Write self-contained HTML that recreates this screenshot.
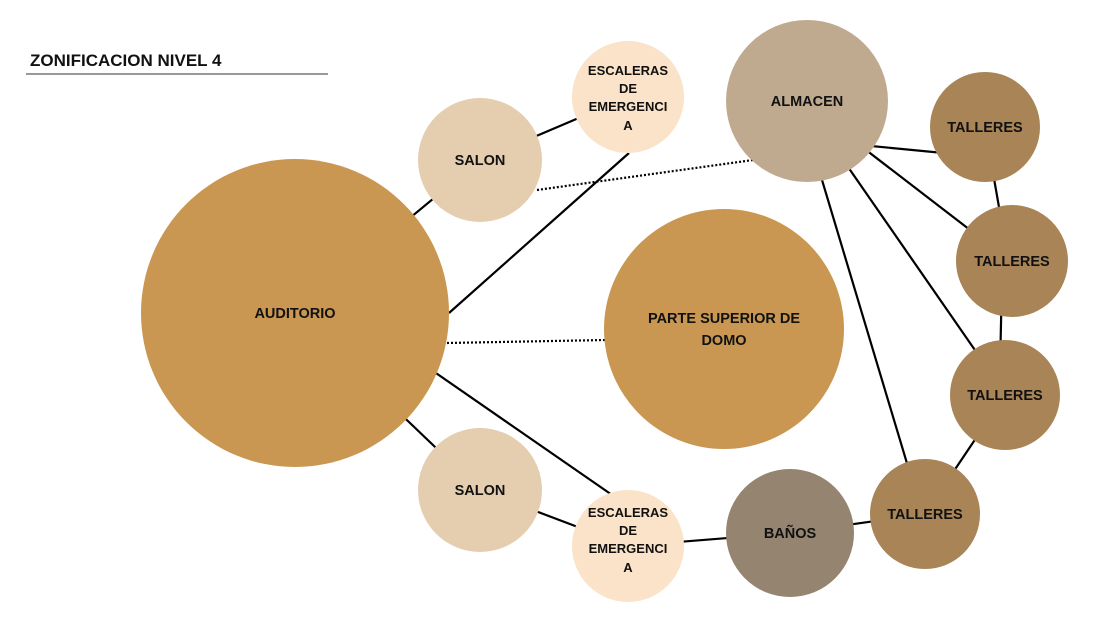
<!DOCTYPE html>
<html><head><meta charset="utf-8"><style>
html,body{margin:0;padding:0;background:#fff;}
svg{display:block;}
text{font-family:"Liberation Sans",sans-serif;font-weight:bold;font-size:14.5px;fill:#111;text-anchor:middle;}
</style></head><body>
<svg width="1100" height="618" viewBox="0 0 1100 618">
<text x="30" y="66" style="text-anchor:start;font-size:17px">ZONIFICACION NIVEL 4</text>
<line x1="26" y1="74" x2="328" y2="74" stroke="#333" stroke-width="1"/>
<g stroke="#000" stroke-width="2.2" fill="none">
<line x1="295" y1="313" x2="480" y2="160"/>
<line x1="480" y1="160" x2="628" y2="97"/>
<line x1="449" y1="313" x2="629" y2="153"/>
<line x1="537" y1="190" x2="753" y2="160" stroke-dasharray="2,2"/>
<line x1="447" y1="343" x2="605" y2="340" stroke-dasharray="2,2"/>
<line x1="420" y1="362" x2="628" y2="506"/>
<line x1="295" y1="313" x2="480" y2="490"/>
<line x1="480" y1="490" x2="628" y2="546"/>
<line x1="628" y1="546" x2="790" y2="533"/>
<line x1="790" y1="533" x2="925" y2="514"/>
<line x1="840" y1="143" x2="985" y2="157"/>
<line x1="840" y1="130" x2="1000" y2="253"/>
<line x1="830" y1="141" x2="995" y2="379"/>
<line x1="807" y1="130" x2="918" y2="500"/>
<line x1="985" y1="127" x2="1003" y2="230"/>
<line x1="1003" y1="230" x2="1000" y2="370"/>
<line x1="1005" y1="395" x2="925" y2="514"/>
</g>
<circle cx="295" cy="313" r="154" fill="#C99752"/>
<circle cx="480" cy="160" r="62" fill="#E5CEB0"/>
<circle cx="628" cy="97" r="56" fill="#FAE3C8"/>
<circle cx="807" cy="101" r="81" fill="#BFAA90"/>
<circle cx="985" cy="127" r="55" fill="#A98457"/>
<circle cx="1012" cy="261" r="56" fill="#A98457"/>
<circle cx="1005" cy="395" r="55" fill="#A98457"/>
<circle cx="925" cy="514" r="55" fill="#A98457"/>
<circle cx="790" cy="533" r="64" fill="#948470"/>
<circle cx="628" cy="546" r="56" fill="#FAE3C8"/>
<circle cx="480" cy="490" r="62" fill="#E5CEB0"/>
<circle cx="724" cy="329" r="120" fill="#C99752"/>
<text x="295" y="318">AUDITORIO</text>
<text x="480" y="165">SALON</text>
<text x="480" y="495">SALON</text>
<text x="628" y="75" style="font-size:13px">ESCALERAS</text>
<text x="628" y="93" style="font-size:13px">DE</text>
<text x="628" y="111" style="font-size:13px">EMERGENCI</text>
<text x="628" y="130" style="font-size:13px">A</text>
<text x="628" y="517" style="font-size:13px">ESCALERAS</text>
<text x="628" y="535" style="font-size:13px">DE</text>
<text x="628" y="553" style="font-size:13px">EMERGENCI</text>
<text x="628" y="572" style="font-size:13px">A</text>
<text x="807" y="106">ALMACEN</text>
<text x="985" y="132">TALLERES</text>
<text x="1012" y="266">TALLERES</text>
<text x="1005" y="400">TALLERES</text>
<text x="925" y="519">TALLERES</text>
<text x="790" y="538">BAÑOS</text>
<text x="724" y="323">PARTE SUPERIOR DE</text>
<text x="724" y="345">DOMO</text>
</svg>
</body></html>
